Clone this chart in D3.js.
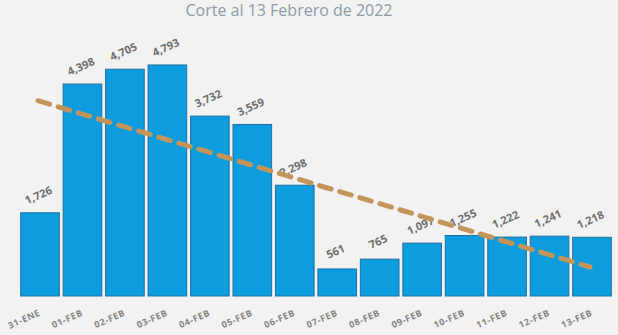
<!DOCTYPE html>
<html>
<head>
<meta charset="utf-8">
<script src="https://cdn.jsdelivr.net/npm/d3@7/dist/d3.min.js"></script>
<style>
  html, body { margin: 0; padding: 0; background: #f2f2f2; }
  svg { display: block; }
</style>
</head>
<body>
<svg id="chart" width="618" height="335"></svg>
<script>
const title = "Corte al 13 Febrero de 2022";
const categories = ["31-ENE","01-FEB","02-FEB","03-FEB","04-FEB","05-FEB","06-FEB","07-FEB","08-FEB","09-FEB","10-FEB","11-FEB","12-FEB","13-FEB"];
const values = [1726, 4398, 4705, 4793, 3732, 3559, 2298, 561, 765, 1097, 1255, 1222, 1241, 1218];

const W = 618, H = 335;
const svg = d3.select("#chart");
svg.append("rect").attr("width", W).attr("height", H).attr("fill", "#f2f2f2");

const x = d3.scaleBand().domain(categories).range([18.8, 613.2]).paddingInner(0.09).paddingOuter(0.045);
const y = d3.scaleLinear().domain([0, 5000]).range([296, 55]);

svg.append("text")
  .attr("x", 289).attr("y", 16)
  .attr("text-anchor", "middle")
  .attr("font-family", "'Open Sans', sans-serif")
  .attr("font-size", 16)
  .attr("fill", "#8e9aa9")
  .text(title);

const data = categories.map((c, i) => ({ c, v: values[i] }));

svg.append("g").selectAll("rect").data(data).join("rect")
  .attr("x", d => x(d.c))
  .attr("y", d => y(d.v))
  .attr("width", x.bandwidth())
  .attr("height", d => y(0) - y(d.v))
  .attr("fill", "#0d9ddf")
  .attr("stroke", "#1f6f9f")
  .attr("stroke-width", 1);

// value labels
svg.append("g").selectAll("text").data(data).join("text")
  .attr("transform", d => `translate(${x(d.c) + x.bandwidth() / 2},${y(d.v) - 14}) rotate(-24)`)
  .attr("text-anchor", "middle")
  .attr("font-family", "'Open Sans', sans-serif")
  .attr("font-weight", 700)
  .attr("font-size", 11)
  .attr("fill", "#6e6e6e")
  .text(d => d3.format(",")(d.v));

// category labels
svg.append("g").selectAll("text").data(data).join("text")
  .attr("transform", d => `translate(${x(d.c) + x.bandwidth() / 2 + 1},${315}) rotate(-24)`)
  .attr("text-anchor", "end")
  .attr("font-family", "'Open Sans', sans-serif")
  .attr("font-weight", 700)
  .attr("font-size", 9)
  .attr("letter-spacing", 0.6)
  .attr("fill", "#858585")
  .text(d => d.c);

// linear trend line (least squares over the data)
const n = values.length;
const xs = d3.range(n);
const mx = d3.mean(xs), my = d3.mean(values);
const sxy = d3.sum(xs, i => (i - mx) * (values[i] - my));
const sxx = d3.sum(xs, i => (i - mx) * (i - mx));
const slope = sxy / sxx, intercept = my - slope * mx;
const trend = [0, n - 1].map(i => ({ c: categories[i], v: intercept + slope * i }));

svg.append("path")
  .datum(trend)
  .attr("d", d3.line().x(d => x(d.c) + x.bandwidth() / 2 - 2).y(d => y(d.v)))
  .attr("fill", "none")
  .attr("stroke", "#c4955b")
  .attr("stroke-width", 5)
  .attr("stroke-dasharray", "12,9")
  .attr("stroke-linecap", "round");
</script>
</body>
</html>
